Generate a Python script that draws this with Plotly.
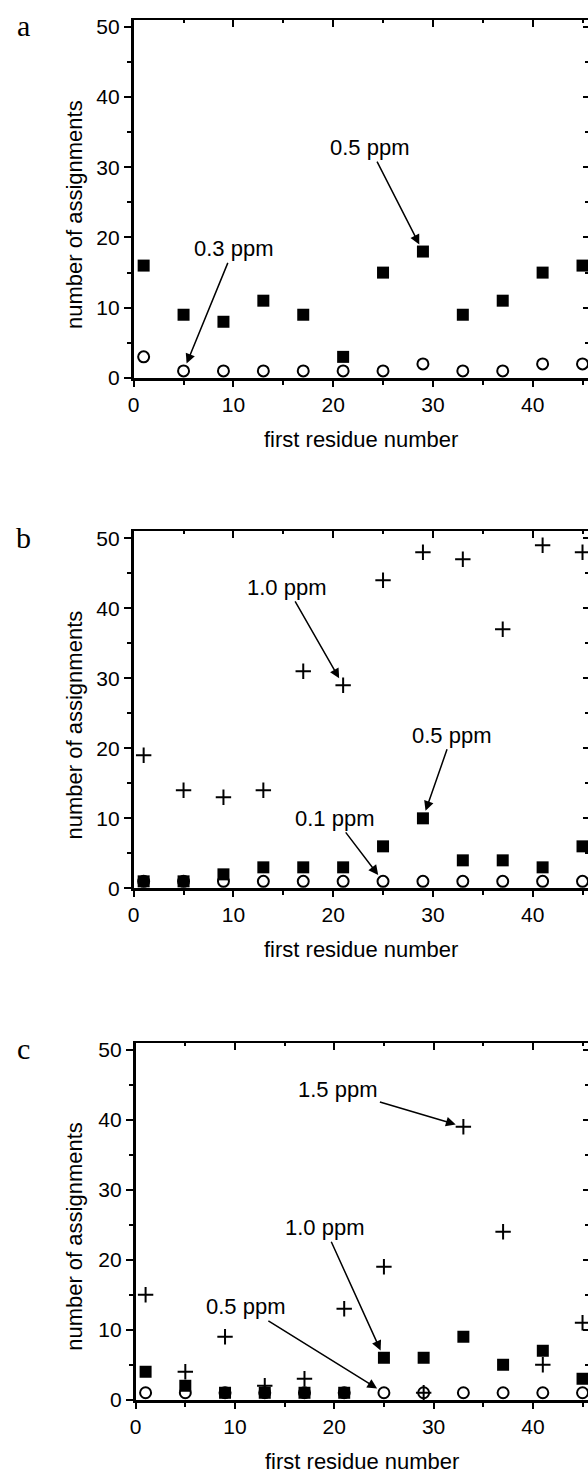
import plotly.graph_objects as go

# ---- data ----
residues = [1, 5, 9, 13, 17, 21, 25, 29, 33, 37, 41, 45]

# panel a
a_05ppm = [16, 9, 8, 11, 9, 3, 15, 18, 9, 11, 15, 16]
a_03ppm = [3, 1, 1, 1, 1, 1, 1, 2, 1, 1, 2, 2]

# panel b
b_10ppm = [19, 14, 13, 14, 31, 29, 44, 48, 47, 37, 49, 48]
b_05ppm = [1, 1, 2, 3, 3, 3, 6, 10, 4, 4, 3, 6]
b_01ppm = [1, 1, 1, 1, 1, 1, 1, 1, 1, 1, 1, 1]

# panel c
c_15ppm = [15, 4, 9, 2, 3, 13, 19, 1, 39, 24, 5, 11]
c_10ppm = [4, 2, 1, 1, 1, 1, 6, 6, 9, 5, 7, 3]
c_05ppm = [1, 1, 1, 1, 1, 1, 1, 1, 1, 1, 1, 1]

panel_letters = ["a", "b", "c"]
x_title = "first residue number"
y_title = "number of assignments"

W, H = 588, 1481
FONT = "Liberation Sans, Arial, sans-serif"

# pixel geometry of each panel: (x of y-axis, y of top frame, y of x-axis)
panels = [(129, 15, 377), (129, 532, 893), (131, 1049, 1410)]
XMAX = 45.55
YMAX = 51

fig = go.Figure()

def px2paper_y(p):
    return 1 - p / H

layout = dict(
    width=W, height=H, margin=dict(l=0, r=0, t=0, b=0),
    paper_bgcolor="white", plot_bgcolor="white", showlegend=False,
    font=dict(family=FONT, size=21, color="black"),
)

annotations = []

for i, (x0, ytop, ybot) in enumerate(panels):
    n = i + 1
    xs = "" if n == 1 else str(n)
    ov = str(n + 3)
    xdom = [x0 / W, 1.0]
    ydom = [px2paper_y(ybot), px2paper_y(ytop)]
    layout["xaxis" + xs] = dict(
        domain=xdom, range=[0, XMAX], anchor="y" + xs,
        tick0=0, dtick=10, ticks="outside", ticklen=6, tickwidth=2, tickcolor="black",
        minor=dict(dtick=5, ticks="outside", ticklen=4, tickwidth=1.5, tickcolor="black"),
        showline=True, linewidth=2.5, linecolor="black",
        showgrid=False, zeroline=False, tickfont=dict(size=21, family=FONT),
        fixedrange=True,
    )
    layout["yaxis" + xs] = dict(
        domain=ydom, range=[0, YMAX], anchor="x" + xs,
        tick0=0, dtick=10, ticks="outside", ticklen=7, tickwidth=2, tickcolor="black",
        minor=dict(dtick=5, ticks="outside", ticklen=4, tickwidth=1.5, tickcolor="black"),
        showline=True, linewidth=2.5, linecolor="black",
        showgrid=False, zeroline=False, tickfont=dict(size=21, family=FONT),
        fixedrange=True,
    )
    # top frame with inward ticks
    layout["xaxis" + ov] = dict(
        overlaying="x" + xs, anchor="y" + xs, side="top", range=[0, XMAX],
        tick0=0, dtick=10, ticks="inside", ticklen=7, tickwidth=2, tickcolor="black",
        minor=dict(dtick=5, ticks="inside", ticklen=3, tickwidth=1.5, tickcolor="black"),
        showline=True, linewidth=2, linecolor="black", showticklabels=False,
        showgrid=False, zeroline=False, fixedrange=True,
    )
    # right frame ticks
    layout["yaxis" + ov] = dict(
        overlaying="y" + xs, anchor="x" + xs, side="right", range=[0, YMAX],
        tick0=0, dtick=10, ticks="inside", ticklen=5, tickwidth=2, tickcolor="black",
        minor=dict(dtick=5, ticks="inside", ticklen=3, tickwidth=1.5, tickcolor="black"),
        showline=False, showticklabels=False,
        showgrid=False, zeroline=False, fixedrange=True,
    )
    fig.add_trace(go.Scatter(x=[None], y=[None], xaxis="x" + ov, yaxis="y" + ov,
                             mode="markers", hoverinfo="skip"))

    # axis titles and panel letter
    annotations.append(dict(text=y_title, xref="paper", yref="paper",
                            x=69 / W, y=px2paper_y(ybot - 165), textangle=-90,
                            showarrow=False, font=dict(size=22, family=FONT),
                            xanchor="center", yanchor="middle"))
    annotations.append(dict(text=x_title, xref="paper", yref="paper",
                            x=(xdom[0] + xdom[1]) / 2, y=px2paper_y(ybot + 62),
                            showarrow=False, font=dict(size=22, family=FONT),
                            xanchor="center", yanchor="middle"))
    annotations.append(dict(text=panel_letters[i], xref="paper", yref="paper",
                            x=18 / W, y=px2paper_y(ytop + 6),
                            showarrow=False,
                            font=dict(size=30, family="Liberation Serif, Times New Roman, serif"),
                            xanchor="center", yanchor="middle"))

layout["annotations"] = annotations
fig.update_layout(**layout)

def add_series(n, yvals, kind):
    xs = "" if n == 1 else str(n)
    if kind == "circle":
        marker = dict(symbol="circle", size=11, color="white",
                      line=dict(color="black", width=2))
    elif kind == "square":
        marker = dict(symbol="square", size=12, color="black",
                      line=dict(color="black", width=0))
    else:
        marker = dict(symbol="cross-thin", size=11,
                      line=dict(color="black", width=2))
    fig.add_trace(go.Scatter(x=residues, y=yvals, mode="markers", marker=marker,
                             xaxis="x" + xs, yaxis="y" + xs, cliponaxis=False))

add_series(1, a_03ppm, "circle")
add_series(1, a_05ppm, "square")

add_series(2, b_01ppm, "circle")
add_series(2, b_05ppm, "square")
add_series(2, b_10ppm, "plus")

add_series(3, c_05ppm, "circle")
add_series(3, c_10ppm, "square")
add_series(3, c_15ppm, "plus")

def arrow(n, text, x, y, ax, ay, standoff=8):
    xs = "" if n == 1 else str(n)
    fig.add_annotation(x=x, y=y, xref="x" + xs, yref="y" + xs, text=text,
                       showarrow=True, ax=ax, ay=ay, arrowhead=2, arrowsize=1.3,
                       arrowwidth=1.5, arrowcolor="black", standoff=standoff,
                       font=dict(size=22, family=FONT, color="black"))

# arrow heads point at data marks
arrow(1, "0.3 ppm", residues[1], a_03ppm[1], 50, -122)
arrow(1, "0.5 ppm", residues[7], a_05ppm[7], -53, -104)

arrow(2, "1.0 ppm", residues[5], b_10ppm[5], -56, -98)
arrow(2, "0.5 ppm", residues[7], b_05ppm[7], 29, -83)
arrow(2, "0.1 ppm", residues[6], b_01ppm[6], -48, -63)

arrow(3, "1.5 ppm", residues[8], c_15ppm[8], -125, -37)
arrow(3, "1.0 ppm", residues[6], c_10ppm[6], -59, -130)
arrow(3, "0.5 ppm", residues[6], c_05ppm[6], -138, -86)

fig.write_html(
    "out.html",
    config={"displayModeBar": False},
    post_script="document.body.style.margin='0';document.body.style.overflow='hidden';",
)
